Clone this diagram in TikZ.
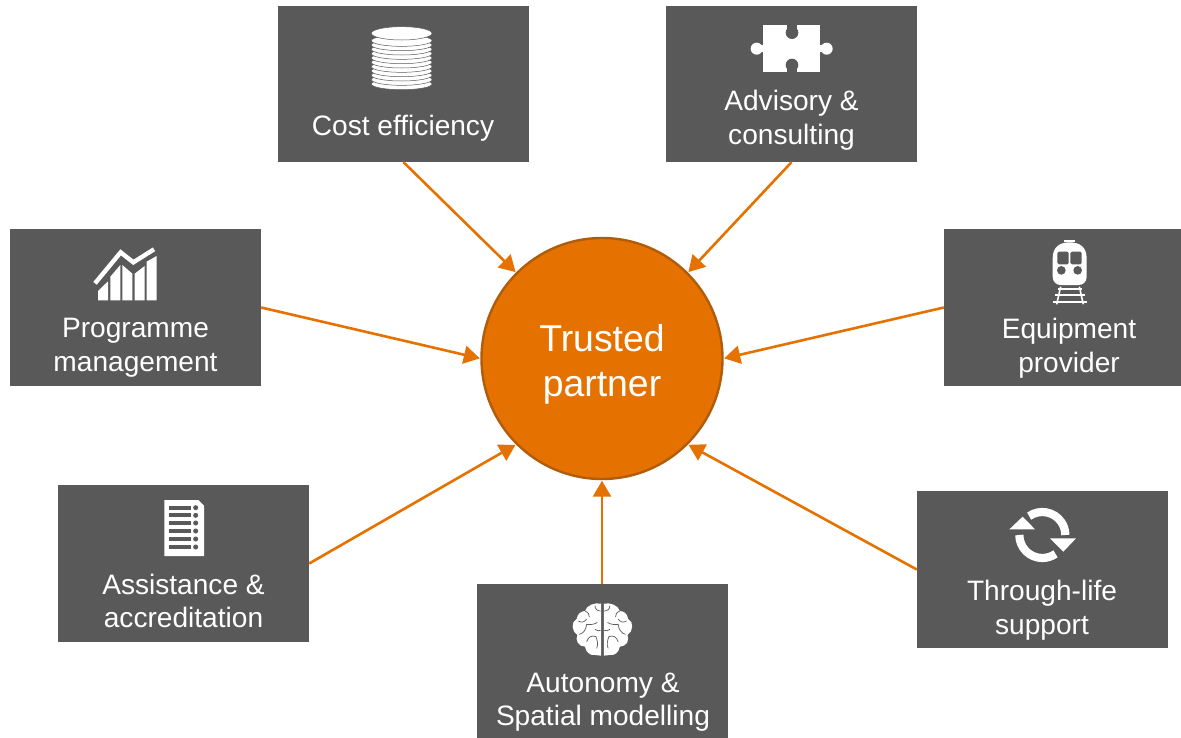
\documentclass[tikz,border=0pt]{standalone}
\usepackage{fontspec}
\setmainfont{Liberation Sans}
\usetikzlibrary{arrows.meta}
\definecolor{boxgray}{HTML}{595959}
\definecolor{hub}{HTML}{E57200}
\definecolor{hubedge}{HTML}{B05C0A}
\tikzset{
  tile/.style={fill=boxgray,draw=none,rectangle,inner sep=0pt,minimum width=251pt,minimum height=157pt},
  tiletext/.style={text=white,align=center,inner sep=0pt,font=\fontsize{28.1}{33.6}\selectfont},
  hubtext/.style={text=white,align=center,inner sep=0pt,font=\fontsize{37.4}{45}\selectfont},
  link/.style={draw=hub,line width=2.6pt,-{Triangle[length=16pt,width=18pt]},shorten >=0.5pt},
  hubnode/.style={circle,fill=hub,draw=hubedge,line width=2.4pt,minimum size=241pt,inner sep=0pt},
  icon/.style={x=.33333pt,y=-.33333pt},
  ink/.style={fill=white,draw=none},
  cut/.style={fill=boxgray,draw=none}
}
\begin{document}
\begin{tikzpicture}[x=1pt,y=-1pt]
\useasboundingbox (0,0) rectangle (1181,737);
\clip (0,0) rectangle (1181,737);
% tiles
\node[tile,minimum height=156pt] (cost) at (403.5,84) {};
\node[tile,minimum height=156pt] (advisory) at (791.5,84) {};
\node[tile] (programme) at (135.5,307.5) {};
\node[tile] (equipment) at (1069.5,307.5) {};
\node[tile] (assistance) at (183.5,563.5) {};
\node[tile] (autonomy) at (602,662.5) {};
\node[tile] (through) at (1042.5,569.5) {};
% hub
\node[hubnode] (hubc) at (602,358.5) {};
\node[hubtext] (thub) at (602,364) {Trusted\\partner};
% links
\draw[link] (cost.south) -- (hubc.135);
\draw[link] (advisory.south) -- (hubc.45);
\draw[link] (programme.east) -- (hubc.180);
\draw[link] (equipment.west) -- (hubc.0);
\draw[link] (assistance.east) -- (hubc.225);
\draw[link] (autonomy.north) -- (hubc.270);
\draw[link] (through.west) -- (hubc.315);
% labels
\node[tiletext] (tcost) at (403,128) {Cost efficiency};
\node[tiletext] (tadvisory) at (791.5,120.5) {Advisory \&\\consulting};
\node[tiletext] (tprogramme) at (135.5,348) {Programme\\management};
\node[tiletext] (tequipment) at (1069,348.5) {Equipment\\provider};
\node[tiletext] (tassistance) at (183.5,601) {Assistance \&\\accreditation};
\node[tiletext] (tautonomy) at (603,702) {Autonomy \&\\Spatial modelling};
\node[tiletext] (tthrough) at (1042,610) {Through-life\\support};
% coins
\begin{scope}[shift={(340,10)},icon]
\foreach \yy in {222,209,196,183,170,157,144,131,118,105,92}
  {\draw[fill=white,draw=boxgray,line width=.5pt] (185,\yy) ellipse [x radius=91,y radius=17];}
\draw[fill=white,draw=boxgray,line width=.5pt] (185,70) ellipse [x radius=91,y radius=20];
\end{scope}
% puzzle
\begin{scope}[shift={(730,10)},icon]
\fill[ink] (100,45) rectangle (270,187);
\fill[ink] (80,116) circle (18);
\fill[ink] (290,116) circle (18);
\fill[ink] (90,106) rectangle (110,126);
\fill[ink] (260,106) rectangle (280,126);
\fill[cut] (186,68) circle (19);
\fill[cut] (186,165) circle (19);
\fill[cut] (172,40) rectangle (200,60);
\fill[cut] (172,172) rectangle (200,192);
\end{scope}
% chart
\begin{scope}[shift={(80,235)},icon]
\fill[ink] (54,168) -- (84,139) -- (84,196) -- (54,196) -- cycle;
\fill[ink] (91,125) -- (121,90) -- (121,196) -- (91,196) -- cycle;
\fill[ink] (127,90) -- (157,116) -- (157,196) -- (127,196) -- cycle;
\fill[ink] (164,116) -- (194,93) -- (194,196) -- (164,196) -- cycle;
\fill[ink] (200,80) -- (230,63) -- (230,196) -- (200,196) -- cycle;
\draw[white,line width=4.4pt] (45,145) -- (122,52) -- (160,82) -- (222,43);
\end{scope}
% train
\begin{scope}[shift={(1030,235)},icon]
\fill[ink] (103,15) rectangle (135,20);
\fill[ink] (68,70) .. controls (68,35) and (90,22) .. (119,22) .. controls (148,22) and (170,35) .. (170,70) -- (170,125) .. controls (170,142) and (158,150) .. (145,150) -- (93,150) .. controls (80,150) and (68,142) .. (68,125) -- cycle;
\fill[cut,rounded corners=1.5pt] (82,50) rectangle (116,88);
\fill[cut,rounded corners=1.5pt] (121,50) rectangle (155,88);
\fill[cut] (94,106) circle (13);
\fill[cut] (143,106) circle (13);
\draw[white,line width=1.6pt] (92,155) -- (80,208);
\draw[white,line width=1.6pt] (148,155) -- (160,208);
\draw[white,line width=1.6pt] (84,162) -- (155,162);
\draw[white,line width=1.6pt] (75,180) -- (165,180);
\draw[white,line width=1.6pt] (68,201) -- (170,201);
\end{scope}
% document
\begin{scope}[shift={(145,495)},icon]
\fill[ink] (58,15) -- (160,15) -- (177,32) -- (177,183) -- (58,183) -- cycle;
\foreach \yy in {38,61,84,108,132,156}
 {\fill[cut] (72,\yy-6) rectangle (138,\yy+6);
  \fill[cut] (152,\yy) circle (7.5);}
\end{scope}
% brain
\begin{scope}[shift={(560,595)},icon]
\foreach \sx/\ox in {1/0,-1/254.5}{
\begin{scope}[xshift=\ox*.33333pt,xscale=\sx]
\fill[ink] (123,26) -- (123,182) -- (105,180)
  .. controls (90,182) and (78,172) .. (75,155)
  .. controls (55,155) and (45,135) .. (52,120)
  .. controls (35,110) and (32,80) .. (50,72)
  .. controls (52,55) and (65,48) .. (75,48)
  .. controls (80,30) and (105,22) .. (123,26) -- cycle;
\draw[boxgray,line width=.7pt] (55,78) .. controls (65,85) and (75,80) .. (80,72);
\draw[boxgray,line width=.7pt] (58,118) .. controls (70,115) and (78,105) .. (80,88) .. controls (90,90) and (105,88) .. (112,82);
\draw[boxgray,line width=.7pt] (80,140) .. controls (85,125) and (95,120) .. (108,125) .. controls (112,135) and (115,150) .. (110,160);
\draw[boxgray,line width=.7pt] (105,32) .. controls (105,42) and (112,48) .. (122,48);
\draw[boxgray,line width=.7pt] (105,103) .. controls (110,108) and (116,108) .. (122,106);
\draw[boxgray,line width=.7pt] (75,48) .. controls (85,52) and (88,58) .. (88,66);
\end{scope}}
\end{scope}
% refresh
\begin{scope}[shift={(1000,500)},icon]
\draw[white,line width=8.2pt] (127,105) ++(-125:69) arc [start angle=-125,end angle=0,radius=69];
\draw[white,line width=8.2pt] (127,105) ++(180:69) arc [start angle=180,end angle=55,radius=69];
\fill[ink] (150,115) -- (228,115) -- (190,155) -- cycle;
\fill[ink] (28,88) -- (105,88) -- (68,50) -- cycle;
\end{scope}
\end{tikzpicture}
\end{document}
